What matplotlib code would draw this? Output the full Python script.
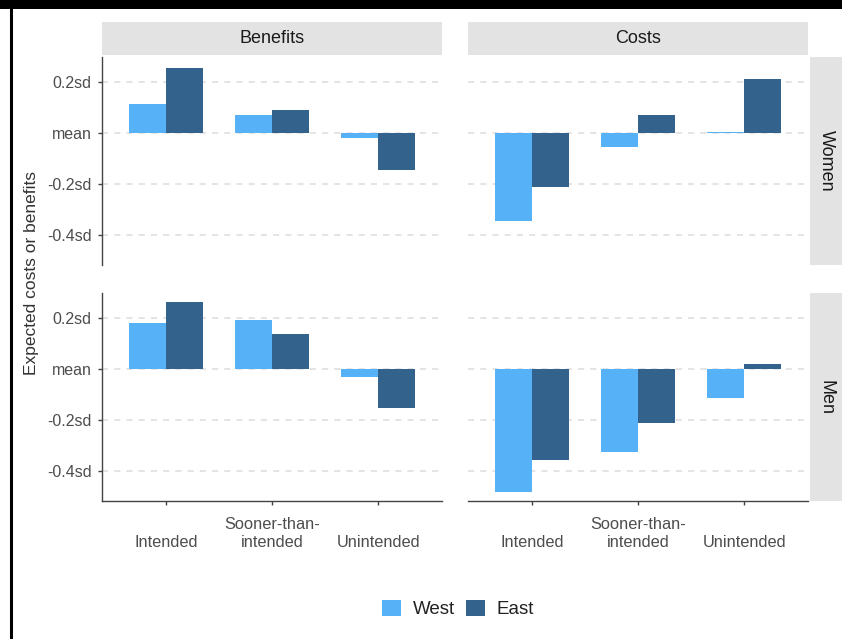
import matplotlib
matplotlib.use("Agg")
import matplotlib.pyplot as plt
from matplotlib.patches import Patch, Rectangle
from matplotlib.lines import Line2D
import numpy as np

plt.rcParams["font.family"] = ["Liberation Sans", "DejaVu Sans"]

# values in sd units
categories = ["Intended", "Sooner-than-\nintended", "Unintended"]
women_benefits_west = [0.114, 0.069, -0.019]
women_benefits_east = [0.255, 0.089, -0.145]
women_costs_west = [-0.346, -0.056, 0.005]
women_costs_east = [-0.212, 0.070, 0.209]
men_benefits_west = [0.181, 0.190, -0.031]
men_benefits_east = [0.262, 0.137, -0.155]
men_costs_west = [-0.480, -0.327, -0.113]
men_costs_east = [-0.355, -0.210, 0.019]

y_ticks = [-0.4, -0.2, 0.0, 0.2]
y_labels = ["-0.4sd", "-0.2sd", "mean", "0.2sd"]
col_titles = ["Benefits", "Costs"]
row_titles = ["Women", "Men"]

WEST = "#56B1F7"
EAST = "#33628D"
STRIP = "#E3E3E3"
W, H = 842, 639

fig = plt.figure(figsize=(W / 100, H / 100), dpi=100)


def box(x0, y0, x1, y1):
    # pixel box (top-left origin) -> figure fraction rect
    return [x0 / W, 1 - y1 / H, (x1 - x0) / W, (y1 - y0) / H]


panels = {
    (0, 0): (women_benefits_west, women_benefits_east),
    (0, 1): (women_costs_west, women_costs_east),
    (1, 0): (men_benefits_west, men_benefits_east),
    (1, 1): (men_costs_west, men_costs_east),
}
col_x = [(102, 442), (468, 808)]
row_y = [(57, 265), (293, 501)]

x = np.arange(1, len(categories) + 1)
bw = 0.35

for (r, c), (west, east) in panels.items():
    ax = fig.add_axes(box(col_x[c][0], row_y[r][0], col_x[c][1], row_y[r][1]))
    for y in y_ticks:
        ax.axhline(y, color="#DCDCDC", lw=1.1, ls=(0, (4, 4)), zorder=0)
    ax.bar(x - bw / 2, west, bw, color=WEST, zorder=2)
    ax.bar(x + bw / 2, east, bw, color=EAST, zorder=2)
    ax.set_xlim(0.4, 3.6)
    ax.set_ylim(-0.517, 0.297)
    for s in ["top", "right"]:
        ax.spines[s].set_visible(False)
    ax.spines["left"].set_visible(c == 0)
    ax.spines["bottom"].set_visible(r == 1)
    for s in ["left", "bottom"]:
        ax.spines[s].set_color("#444444")
        ax.spines[s].set_linewidth(1.0)
    ax.tick_params(colors="#444444", length=3, width=1, labelcolor="#4D4D4D", labelsize=11.5)
    if c == 0:
        ax.set_yticks(y_ticks, y_labels)
        ax.tick_params(axis="y", pad=4.5)
    else:
        ax.set_yticks([])
    if r == 1:
        ax.set_xticks(x, categories)
        ax.tick_params(axis="x", labelsize=11.8, pad=32)
        for lab in ax.get_xticklabels():
            lab.set_va("bottom")
            lab.set_linespacing(1.25)
    else:
        ax.set_xticks([])

# top strips
for c, title in enumerate(col_titles):
    sax = fig.add_axes(box(col_x[c][0], 22, col_x[c][1], 55))
    sax.set_facecolor(STRIP)
    sax.set_xticks([])
    sax.set_yticks([])
    for s in sax.spines.values():
        s.set_visible(False)
    sax.text(0.5, 0.5, title, ha="center", va="center", fontsize=13, color="#1A1A1A",
             transform=sax.transAxes)

# right strips
for r, title in enumerate(row_titles):
    sax = fig.add_axes(box(810, row_y[r][0], 845, row_y[r][1]))
    sax.set_facecolor(STRIP)
    sax.set_xticks([])
    sax.set_yticks([])
    for s in sax.spines.values():
        s.set_visible(False)
    sax.text(16 / 35, 0.5, title, ha="center", va="center", fontsize=13, color="#1A1A1A",
             rotation=-90, transform=sax.transAxes)

fig.text(32 / W, 1 - 273 / H, "Expected costs or benefits", rotation=90, ha="center",
         va="center", fontsize=12.5, color="#333333")

handles = [Patch(facecolor=WEST, label="West"), Patch(facecolor=EAST, label="East")]
fig.legend(handles=handles, loc="center", bbox_to_anchor=(458 / W, 1 - 609 / H), ncol=2,
           frameon=False, fontsize=13.5, handlelength=1.0, handleheight=1.0,
           handletextpad=0.63, columnspacing=0.58, labelcolor="#222222")

# screenshot frame
fig.add_artist(Rectangle((0, 1 - 9 / H), 1, 9 / H, transform=fig.transFigure,
                         facecolor="black", edgecolor="none"))
fig.add_artist(Line2D([11 / W, 11 / W], [0, 1], transform=fig.transFigure, color="black", lw=2.2))

fig.savefig("out.png", dpi=100)
